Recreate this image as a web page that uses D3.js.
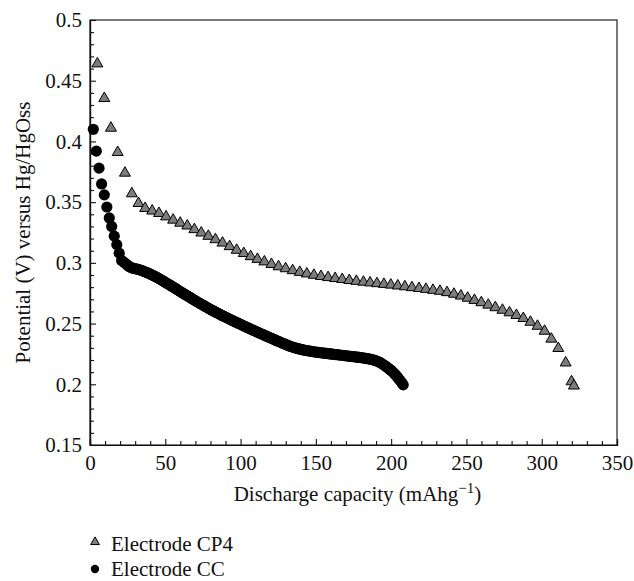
<!DOCTYPE html>
<html>
<head>
<meta charset="utf-8">
<script src="https://cdn.jsdelivr.net/npm/d3@7"></script>
<style>
  html, body { margin: 0; padding: 0; background: #fff; }
  svg { display: block; font-family: "Liberation Serif", "Times New Roman", serif; }
</style>
</head>
<body>
<svg id="chart" width="634" height="581"></svg>
<script>
// ---- Data ----
const xTicks = [0, 50, 100, 150, 200, 250, 300, 350];
const yTicks = [0.15, 0.2, 0.25, 0.3, 0.35, 0.4, 0.45, 0.5];
const yTickLabels = ["0.15", "0.2", "0.25", "0.3", "0.35", "0.4", "0.45", "0.5"];
const seriesNames = ["Electrode CP4", "Electrode CC"];

// Electrode CP4 (triangles)
const cp4X = [4.9, 9.5, 13.9, 18.4, 23.2, 27.8, 32.2, 36.6, 41.3, 45.8,
  50.5, 55.2, 59.9, 64.6, 69.3, 73.9, 78.6, 83.3, 88.0, 92.7,
  97.4, 102.1, 106.7, 111.2, 115.8, 120.5, 125.2, 129.9, 134.6, 139.3,
  144.0, 148.7, 153.4, 158.1, 162.8, 167.5, 172.2, 176.9, 181.6, 186.0,
  190.6, 195.2, 199.8, 204.4, 209.1, 213.8, 218.5, 223.1, 227.8, 232.4,
  237.1, 241.7, 246.3, 250.8, 255.3, 259.9, 264.5, 269.2, 273.9, 278.6,
  283.2, 287.8, 292.5, 297.2, 301.9, 306.4, 311.0, 315.9, 319.8, 321.4];
const cp4Y = [0.464, 0.4355, 0.411, 0.391, 0.374, 0.357, 0.349, 0.3449, 0.3428, 0.3408,
  0.338, 0.3353, 0.3328, 0.3305, 0.3275, 0.3247, 0.322, 0.3192, 0.3164, 0.3135,
  0.3105, 0.3078, 0.3052, 0.3030, 0.3009, 0.2988, 0.2969, 0.2953, 0.2937, 0.2923,
  0.2910, 0.2899, 0.2889, 0.2880, 0.2872, 0.2864, 0.2856, 0.2849, 0.2842, 0.2836,
  0.2830, 0.2824, 0.2818, 0.2811, 0.2804, 0.2797, 0.2790, 0.2783, 0.2775, 0.2767,
  0.2756, 0.2743, 0.2728, 0.2710, 0.2692, 0.2673, 0.2653, 0.2632, 0.2611, 0.2590,
  0.2568, 0.2543, 0.2512, 0.2479, 0.2438, 0.2373, 0.2296, 0.2177, 0.2022, 0.1987];

// Electrode CC (circles)
const ccX = [2.2, 4.2, 6.0, 7.7, 9.5, 11.2, 12.8, 14.4, 16.1, 17.8,
  19.4, 21.0, 22.6, 24, 25, 26, 27, 28, 29, 30, 31, 32, 33, 34, 35, 36, 37,
  38, 39, 40, 41, 42, 43, 44, 45, 46, 47, 48, 49, 50, 51, 52, 53, 54, 55, 56, 57,
  58, 59, 60, 61, 62, 63, 64, 65, 66, 67, 68, 69, 70, 71, 72, 73, 74, 75, 76, 77,
  78, 79, 80, 81, 82, 83, 84, 85, 86, 87, 88, 89, 90, 91, 92, 93, 94, 95, 96, 97,
  98, 99, 100, 101, 102, 103, 104, 105, 106, 107, 108, 109, 110, 111, 112, 113, 114, 115, 116, 117,
  118, 119, 120, 121, 122, 123, 124, 125, 126, 127, 128, 129, 130, 131, 132, 133, 134, 135, 136, 137,
  138, 139, 140, 141, 142, 143, 144, 145, 146, 147, 148, 149, 150, 151, 152, 153, 154, 155, 156, 157,
  158, 159, 160, 161, 162, 163, 164, 165, 166, 167, 168, 169, 170, 171, 172, 173, 174, 175, 176, 177,
  178, 179, 180, 181, 182, 183, 184, 185, 186, 187, 188, 189, 190, 191, 192, 193, 194, 195, 196, 197,
  198, 199, 200, 201, 202, 203, 204, 205, 206, 207.2, 208];
const ccY = [0.410, 0.392, 0.378, 0.365, 0.356, 0.346, 0.337, 0.330, 0.322, 0.315,
  0.308, 0.302, 0.3005, 0.2990, 0.2980, 0.2970, 0.2963, 0.2958, 0.2955, 0.2952, 0.2949, 0.2946, 0.2942, 0.2938, 0.2934, 0.2929, 0.2924,
  0.2919, 0.2914, 0.2908, 0.2902, 0.2896, 0.2890, 0.2883, 0.2876, 0.2869, 0.2862, 0.2855, 0.2848, 0.2840, 0.2832, 0.2825, 0.2818, 0.2810, 0.2803, 0.2795, 0.2787,
  0.2779, 0.2771, 0.2763, 0.2756, 0.2748, 0.2741, 0.2733, 0.2726, 0.2718, 0.2711, 0.2703, 0.2696, 0.2688, 0.2681, 0.2673, 0.2666, 0.2659, 0.2652, 0.2645, 0.2638,
  0.2631, 0.2624, 0.2617, 0.2610, 0.2604, 0.2597, 0.2591, 0.2584, 0.2578, 0.2571, 0.2565, 0.2559, 0.2553, 0.2547, 0.2541, 0.2535, 0.2529, 0.2523, 0.2517, 0.2511,
  0.2505, 0.2500, 0.2494, 0.2488, 0.2482, 0.2476, 0.2470, 0.2465, 0.2459, 0.2453, 0.2447, 0.2442, 0.2436, 0.2431, 0.2425, 0.2420, 0.2414, 0.2409, 0.2403, 0.2398,
  0.2392, 0.2387, 0.2381, 0.2376, 0.2370, 0.2365, 0.2359, 0.2354, 0.2349, 0.2343, 0.2338, 0.2333, 0.2328, 0.2323, 0.2318, 0.2313, 0.2309, 0.2305, 0.2301, 0.2297,
  0.2294, 0.2291, 0.2288, 0.2285, 0.2282, 0.2280, 0.2277, 0.2275, 0.2273, 0.2271, 0.2269, 0.2267, 0.2265, 0.2263, 0.2262, 0.2260, 0.2259, 0.2257, 0.2256, 0.2254,
  0.2253, 0.2251, 0.2250, 0.2248, 0.2247, 0.2245, 0.2244, 0.2242, 0.2241, 0.2239, 0.2238, 0.2236, 0.2235, 0.2233, 0.2232, 0.2230, 0.2229, 0.2227, 0.2226, 0.2224,
  0.2223, 0.2221, 0.2220, 0.2218, 0.2216, 0.2214, 0.2212, 0.2210, 0.2207, 0.2204, 0.2201, 0.2198, 0.2194, 0.2189, 0.2183, 0.2176, 0.2168, 0.2160, 0.2152, 0.2143,
  0.2134, 0.2124, 0.2114, 0.2102, 0.2090, 0.2076, 0.2062, 0.2046, 0.2030, 0.2010, 0.1995];

// ---- Drawing ----
const svg = d3.select("#chart");
const mLeft = 90, mRight = 617, mTop = 20, mBottom = 445;
const x = d3.scaleLinear().domain([0, 350]).range([mLeft, mRight]);
const y = d3.scaleLinear().domain([0.15, 0.5]).range([mBottom, mTop]);
const fontSize = 21;

const cp4 = cp4X.map((d, i) => ({ x: d, y: cp4Y[i] }));
const cc = ccX.map((d, i) => ({ x: d, y: ccY[i] }));

// frame
svg.append("rect")
  .attr("x", mLeft).attr("y", mTop)
  .attr("width", mRight - mLeft).attr("height", mBottom - mTop)
  .attr("fill", "none").attr("stroke", "#222").attr("stroke-width", 1.2);

// minor ticks
const xMinor = d3.range(0, 351, 10).filter(v => v % 50 !== 0);
const yMinor = d3.range(15, 51, 1).map(v => v / 100).filter(v => Math.round(v * 100) % 5 !== 0);

const gx = svg.append("g").attr("transform", `translate(0,${mBottom})`);
gx.call(d3.axisBottom(x).tickValues(xTicks).tickSize(-6).tickPadding(10).tickFormat(d3.format("d")));
const gxm = svg.append("g").attr("transform", `translate(0,${mBottom})`);
gxm.call(d3.axisBottom(x).tickValues(xMinor).tickSize(-4).tickFormat(""));

const gy = svg.append("g").attr("transform", `translate(${mLeft},0)`);
gy.call(d3.axisLeft(y).tickValues(yTicks).tickSize(-6).tickPadding(8)
  .tickFormat((d, i) => yTickLabels[i]));
const gym = svg.append("g").attr("transform", `translate(${mLeft},0)`);
gym.call(d3.axisLeft(y).tickValues(yMinor).tickSize(-4).tickFormat(""));

[gx, gxm, gy, gym].forEach(g => {
  g.select(".domain").attr("stroke", "#111").attr("stroke-width", 1.2);
  g.selectAll(".tick line").attr("stroke", "#111").attr("stroke-width", 1.1);
  g.selectAll(".tick text").attr("font-size", fontSize)
    .attr("font-family", "Liberation Serif, serif").attr("fill", "#111");
});

// CC circles
svg.append("g").selectAll("circle").data(cc).join("circle")
  .attr("cx", d => x(d.x)).attr("cy", d => y(d.y))
  .attr("r", 5.6).attr("fill", "#000");

// CP4 triangles
const tri = d3.symbol().type(d3.symbolTriangle).size(52);
svg.append("g").selectAll("path").data(cp4).join("path")
  .attr("d", tri)
  .attr("transform", d => `translate(${x(d.x)},${y(d.y)})`)
  .attr("fill", "#7d7d7d").attr("stroke", "#000").attr("stroke-width", 1);

// axis titles
const xt = svg.append("text")
  .attr("x", (mLeft + mRight) / 2 + 4).attr("y", 501)
  .attr("text-anchor", "middle").attr("font-size", fontSize).attr("fill", "#111");
xt.append("tspan").text("Discharge capacity (mAhg");
xt.append("tspan").attr("dy", -8).attr("font-size", 15).text("\u22121");
xt.append("tspan").attr("dy", 8).text(")");

svg.append("text")
  .attr("transform", `translate(30,${(mTop + mBottom) / 2}) rotate(-90)`)
  .attr("text-anchor", "middle").attr("font-size", fontSize).attr("fill", "#111")
  .text("Potential (V) versus Hg/HgOss");

// legend
const lg = svg.append("g");
lg.append("path").attr("d", d3.symbol().type(d3.symbolTriangle).size(34))
  .attr("transform", "translate(95,542)")
  .attr("fill", "#7d7d7d").attr("stroke", "#000").attr("stroke-width", 1);
lg.append("text").attr("x", 111).attr("y", 551).attr("font-size", fontSize).attr("fill", "#111")
  .text(seriesNames[0]);
lg.append("circle").attr("cx", 95).attr("cy", 569).attr("r", 4.2).attr("fill", "#000");
lg.append("text").attr("x", 111).attr("y", 576).attr("font-size", fontSize).attr("fill", "#111")
  .text(seriesNames[1]);
</script>
</body>
</html>
